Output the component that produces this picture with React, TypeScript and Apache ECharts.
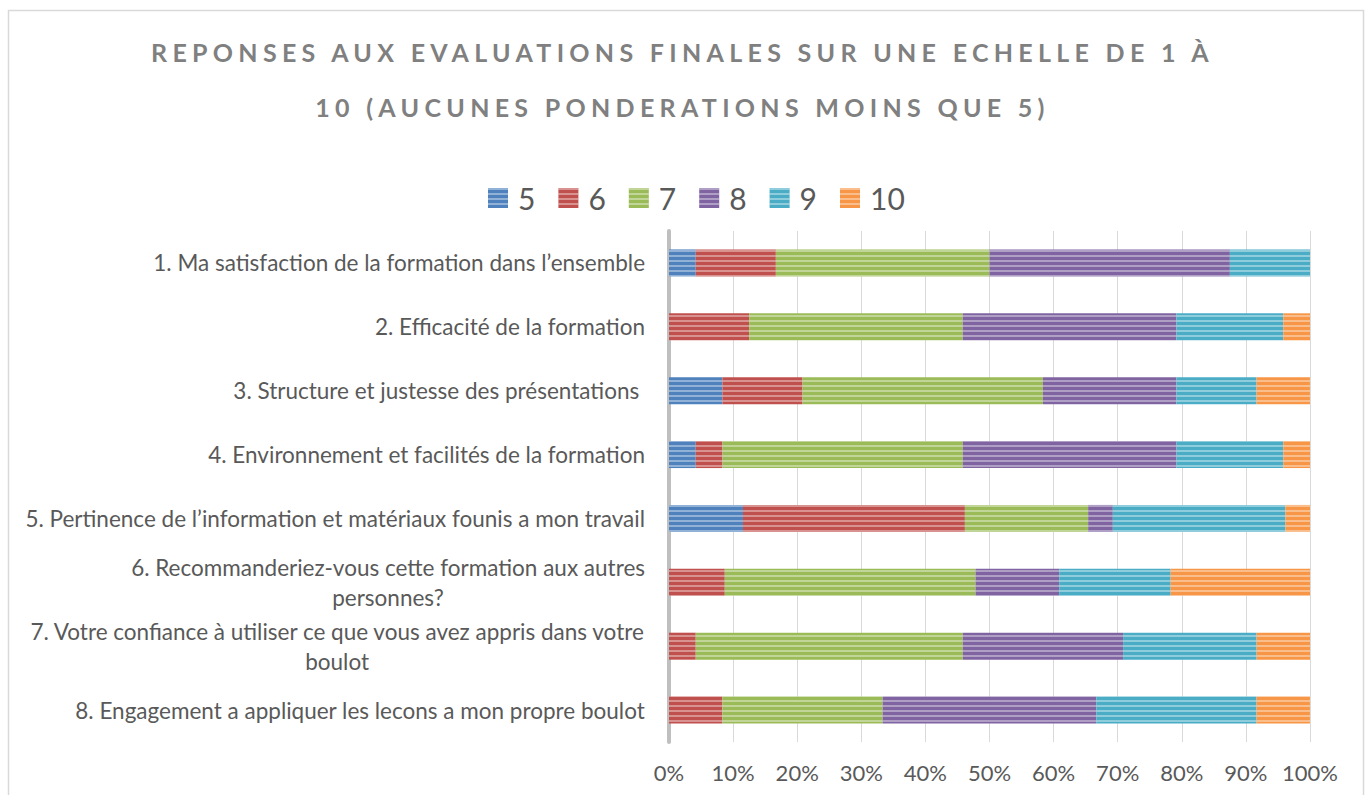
import React, { useEffect, useRef } from "react";
import * as echarts from "echarts";

const titleText =
  "REPONSES AUX EVALUATIONS FINALES SUR UNE ECHELLE DE 1 À\n10 (AUCUNES PONDERATIONS MOINS QUE 5)";

const categories = [
  "1. Ma satisfaction de la formation dans l’ensemble",
  "2. Efficacité de la formation",
  "3. Structure et justesse des présentations ",
  "4. Environnement et facilités de la formation",
  "5. Pertinence de l’information et matériaux founis a mon travail",
  "6. Recommanderiez-vous cette formation aux autres\npersonnes?",
  "7. Votre confiance à utiliser ce que vous avez appris dans votre\nboulot",
  "8. Engagement a appliquer les lecons a mon propre boulot",
];

const seriesNames = ["5", "6", "7", "8", "9", "10"];

const note5 = [4.17, 0, 8.33, 4.17, 11.54, 0, 0, 0];
const note6 = [12.5, 12.5, 12.5, 4.17, 34.62, 8.7, 4.17, 8.33];
const note7 = [33.33, 33.33, 37.5, 37.5, 19.23, 39.13, 41.67, 25.0];
const note8 = [37.5, 33.33, 20.83, 33.33, 3.85, 13.04, 25.0, 33.33];
const note9 = [12.5, 16.67, 12.5, 16.67, 26.92, 17.39, 20.83, 25.0];
const note10 = [0, 4.17, 8.33, 4.17, 3.85, 21.74, 8.33, 8.33];

const seriesValues = [note5, note6, note7, note8, note9, note10];
const seriesColors = ["#4F81BD", "#C0504D", "#9BBB59", "#8064A2", "#4BACC6", "#F79646"];

const xMin = 0;
const xMax = 100;
const xInterval = 10;

const FONT = "Lato, 'Open Sans', sans-serif";
const LABEL_COLOR = "#595959";

export default function App() {
  const ref = useRef<HTMLDivElement | null>(null);

  useEffect(() => {
    document.body.style.margin = "0";
    if (!ref.current) return;
    const chart = echarts.init(ref.current, undefined, { renderer: "svg" });

    const decal = {
      symbol: "rect",
      symbolSize: 1,
      dashArrayX: [1, 0],
      dashArrayY: [1.2, 2.2],
      rotation: 0,
      color: "rgba(255,255,255,0.38)",
    };

    const option: any = {
      animation: false,
      backgroundColor: "#ffffff",
      title: {
        text: titleText,
        left: "center",
        top: 24,
        padding: 0,
        textStyle: {
          fontFamily: FONT,
          fontWeight: "bold",
          fontSize: 25,
          lineHeight: 55,
          color: "#808080",
        },
      },
      legend: {
        top: 178,
        left: 483,
        itemWidth: 20,
        itemHeight: 20,
        itemGap: 23,
        icon: "rect",
        textStyle: {
          fontFamily: FONT,
          fontSize: 30,
          color: LABEL_COLOR,
          padding: [0, 0, 0, 5],
        },
        data: seriesNames,
      },
      graphic: [
        {
          type: "rect",
          silent: true,
          z: -1,
          shape: { x: 8.5, y: 10.5, width: 1355, height: 820 },
          style: { fill: "none", stroke: "#d9d9d9", lineWidth: 1.5 },
        },
      ],
      grid: {
        left: 669,
        right: 55,
        top: 231,
        bottom: 53,
        containLabel: false,
        outerBoundsMode: "none",
      },
      xAxis: {
        type: "value",
        min: xMin,
        max: xMax,
        interval: xInterval,
        axisLine: { show: false },
        axisTick: { show: false },
        splitLine: { show: true, lineStyle: { color: "#d9d9d9", width: 1 } },
        axisLabel: {
          formatter: "{value}%",
          margin: 19,
          fontFamily: FONT,
          fontSize: 22,
          color: LABEL_COLOR,
        },
      },
      yAxis: {
        type: "category",
        inverse: true,
        data: categories,
        axisLine: { show: true, lineStyle: { color: "#bfbfbf", width: 4 } },
        axisTick: { show: false },
        splitLine: { show: false },
        axisLabel: {
          margin: 24,
          align: "right",
          formatter: (val: string) =>
            val
              .split("\n")
              .map((l) => `{c|${l}}`)
              .join("\n"),
          rich: {
            c: {
              align: "center",
              fontFamily: FONT,
              fontSize: 22.5,
              lineHeight: 30,
              color: LABEL_COLOR,
            },
          },
        },
      },
      series: seriesNames.map((name, i) => ({
        name,
        type: "bar",
        stack: "total",
        barWidth: 27,
        emphasis: { disabled: true },
        itemStyle: { color: seriesColors[i], decal },
        data: seriesValues[i],
      })),
    };

    chart.setOption(option);
    return () => {
      chart.dispose();
    };
  }, []);

  return (
    <>
      <style>{`#chart-root text[style*="bold"]{letter-spacing:5.3px;}`}</style>
      <div id="chart-root" ref={ref} style={{ width: 1365, height: 795 }} />
    </>
  );
}
